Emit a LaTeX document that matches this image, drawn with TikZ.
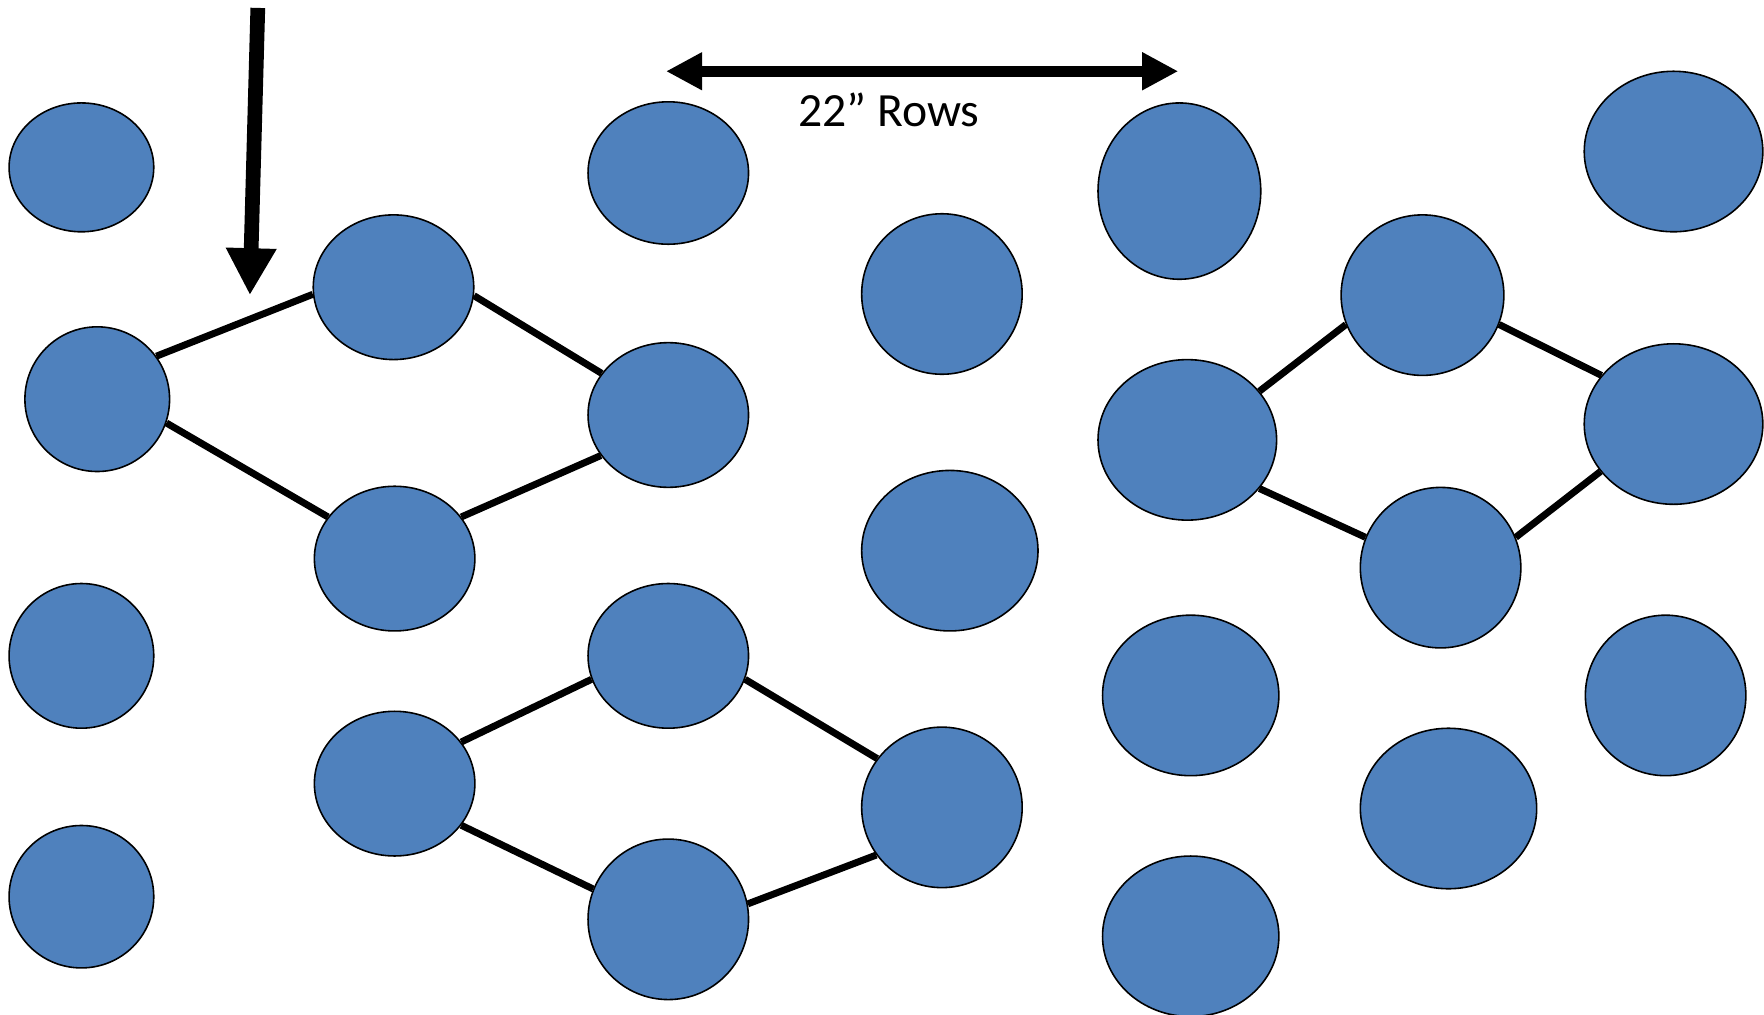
\documentclass[tikz,border=0pt]{standalone}
\usepackage{fontspec}
\setmainfont{Carlito}
\usepackage{tikz}
\usetikzlibrary{shapes.geometric,arrows.meta}
\definecolor{plantblue}{HTML}{4F81BD}

\begin{document}
\begin{tikzpicture}[
   x=0.02cm, y=-0.02cm,
   plant/.style 2 args={ellipse, draw=black, line width=0.8pt, fill=plantblue,
      inner sep=0pt, minimum width=#1*0.04cm, minimum height=#2*0.04cm},
   link/.style={line width=3.5pt},
   rowarrow/.style={line width=0.2cm,
      {Triangle[width=0.63cm,length=0.64cm]}-{Triangle[width=0.63cm,length=0.64cm]}},
   droparrow/.style={line width=0.26cm, -{Triangle[width=0.84cm,length=0.83cm]}},
   every node/.append style={align=center}
]
\useasboundingbox (0,0) rectangle (1560,897.6);

\node[plant={64}{57}] (a1) at (72,148) {};
\node[plant={64}{64}] (a2) at (86,353) {};
\node[plant={64}{64}] (a3) at (72,580) {};
\node[plant={64}{63}] (a4) at (72,793) {};

\node[plant={71}{64}] (b1) at (348,254) {};
\node[plant={71}{64}] (b2) at (349,494) {};
\node[plant={71}{64}] (b3) at (349,693) {};

\node[plant={71}{63}] (c1) at (591,153) {};
\node[plant={71}{64}] (c2) at (591,367) {};
\node[plant={71}{64}] (c3) at (591,580) {};
\node[plant={71}{71}] (c4) at (591,813) {};

\node[plant={71}{71}] (d1) at (833,260) {};
\node[plant={78}{71}] (d2) at (840,487) {};
\node[plant={71}{71}] (d3) at (833,714) {};

\node[plant={72}{78}] (e1) at (1043,169) {};
\node[plant={79}{71}] (e2) at (1050,389) {};
\node[plant={78}{71}] (e3) at (1053,615) {};
\node[plant={78}{71}] (e4) at (1053,828) {};

\node[plant={72}{71}] (f1) at (1258,261) {};
\node[plant={71}{71}] (f2) at (1274,502) {};
\node[plant={78}{71}] (f3) at (1281,715) {};

\node[plant={79}{71}] (g1) at (1480,134) {};
\node[plant={79}{71}] (g2) at (1480,375) {};
\node[plant={71}{71}] (g3) at (1473,615) {};

\draw[link] (a2.36) -- (b1.185);
\draw[link] (a2.-19) -- (b2.148);
\draw[link] (b1.-6) -- (c2.148);
\draw[link] (b2.32) -- (c2.211);

\draw[link] (b3.32) -- (c3.197);
\draw[link] (b3.-32) -- (c4.158);
\draw[link] (c3.-17) -- (d3.143);
\draw[link] (c4.11) -- (d3.216);

\draw[link] (e2.34) -- (f1.201);
\draw[link] (e2.-34) -- (f2.158);
\draw[link] (f1.-21) -- (g2.146);
\draw[link] (f2.22) -- (g2.213);

\coordinate (droptop) at (228,7);
\coordinate (droptip) at (221,261);
\draw[droparrow] (droptop) -- (droptip);

\coordinate (rowL) at (589,63);
\coordinate (rowR) at (1042,63);
\draw[rowarrow] (rowL) -- (rowR);
\node[anchor=base, font=\fontsize{24}{29}\selectfont] (rowlabel) at (786,112) {22” Rows};
\end{tikzpicture}
\end{document}
